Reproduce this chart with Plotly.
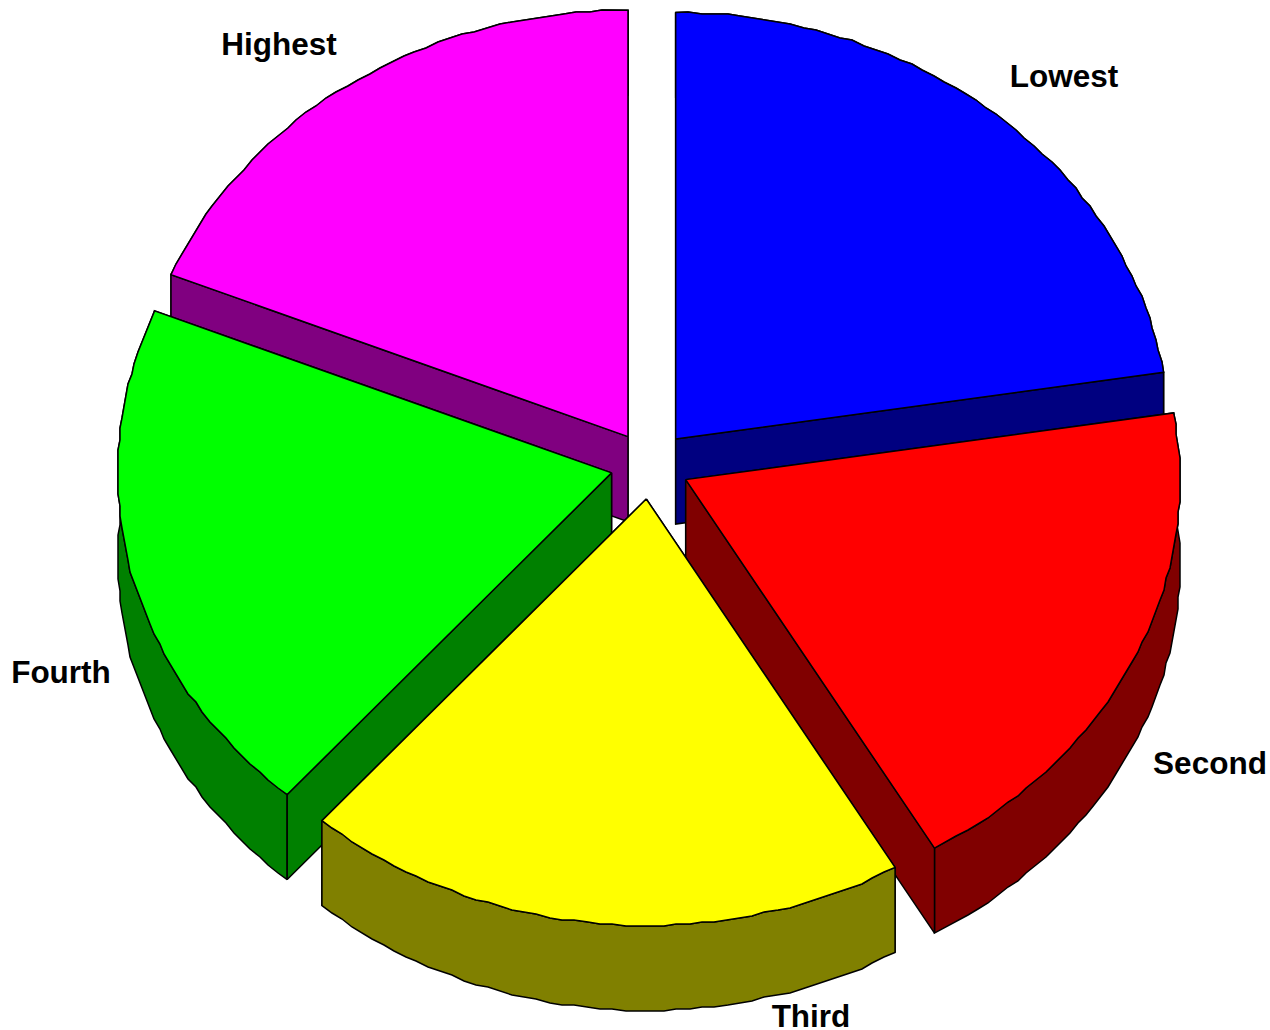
import numpy as np
import plotly.graph_objects as go

categories = ["Lowest", "Second", "Third", "Fourth", "Highest"]
shares = [22.5, 19.1, 19.8, 19.8, 18.8]
top_colors = ["#0000ff", "#ff0000", "#ffff00", "#00ff00", "#ff00ff"]
side_colors = ["#000080", "#800000", "#808000", "#008000", "#800080"]
label_x = [1064, 1210, 811, 61, 279]
label_y = [79, 766, 1019, 675, 47]
draw_order = [4, 0, 3, 1, 2]

CX, CY, RX, RY, DEPTH, EXPLODE = 650, 465, 494, 426.5, 85, 0.08
SEGMENT_DEG = 1.5
GRID = 2.0

edges = np.concatenate([[0], np.cumsum(shares)]) / np.sum(shares) * 360

def pt(deg, scale=1.0):
    a = np.radians(deg)
    return RX * scale * np.sin(a), -RY * scale * np.cos(a)

fig = go.Figure()

def poly(xs, ys, color):
    fig.add_trace(go.Scatter(x=list(xs) + [xs[0]], y=list(ys) + [ys[0]], mode="lines", fill="toself",
                             fillcolor=color, line=dict(color="#000000", width=1.5),
                             hoverinfo="skip", showlegend=False))

for i in draw_order:
    a0, a1 = edges[i], edges[i + 1]
    mx, my = pt((a0 + a1) / 2, EXPLODE)
    ax, ay = CX + mx, CY + my
    n = max(2, int(round((a1 - a0) / SEGMENT_DEG)))
    arc = np.linspace(a0, a1, n + 1)
    px, py = pt(arc)
    px, py = ax + px, ay + py
    # the source chart's arcs are slightly stepped, so inner arc points snap to a small grid
    px[1:-1] = np.round(px[1:-1] / GRID) * GRID
    py[1:-1] = np.round(py[1:-1] / GRID) * GRID
    walls = [
        ([ax, px[0], px[0], ax], [ay, py[0], py[0] + DEPTH, ay + DEPTH]),
        ([ax, px[-1], px[-1], ax], [ay, py[-1], py[-1] + DEPTH, ay + DEPTH]),
        (list(px) + list(px[::-1]), list(py) + list(py[::-1] + DEPTH)),
    ]
    for wx, wy in sorted(walls, key=lambda w: np.mean(w[1])):
        poly(wx, wy, side_colors[i])
    poly([ax] + list(px), [ay] + list(py), top_colors[i])

fig.add_trace(go.Scatter(x=label_x, y=label_y, mode="text", text=categories, textposition="middle center",
                         textfont=dict(family="Liberation Sans", size=31.5, color="#000000", weight="bold"),
                         hoverinfo="skip", showlegend=False, cliponaxis=False))

fig.update_layout(width=1270, height=1030, autosize=False, margin=dict(l=0, r=0, t=0, b=0),
                  paper_bgcolor="white", plot_bgcolor="white",
                  xaxis=dict(range=[0, 1270], visible=False, fixedrange=True),
                  yaxis=dict(range=[1030, 0], visible=False, fixedrange=True))
fig.write_html("out.html", config=dict(displayModeBar=False),
               post_script="document.body.style.margin='0';document.documentElement.style.overflow='hidden';")
